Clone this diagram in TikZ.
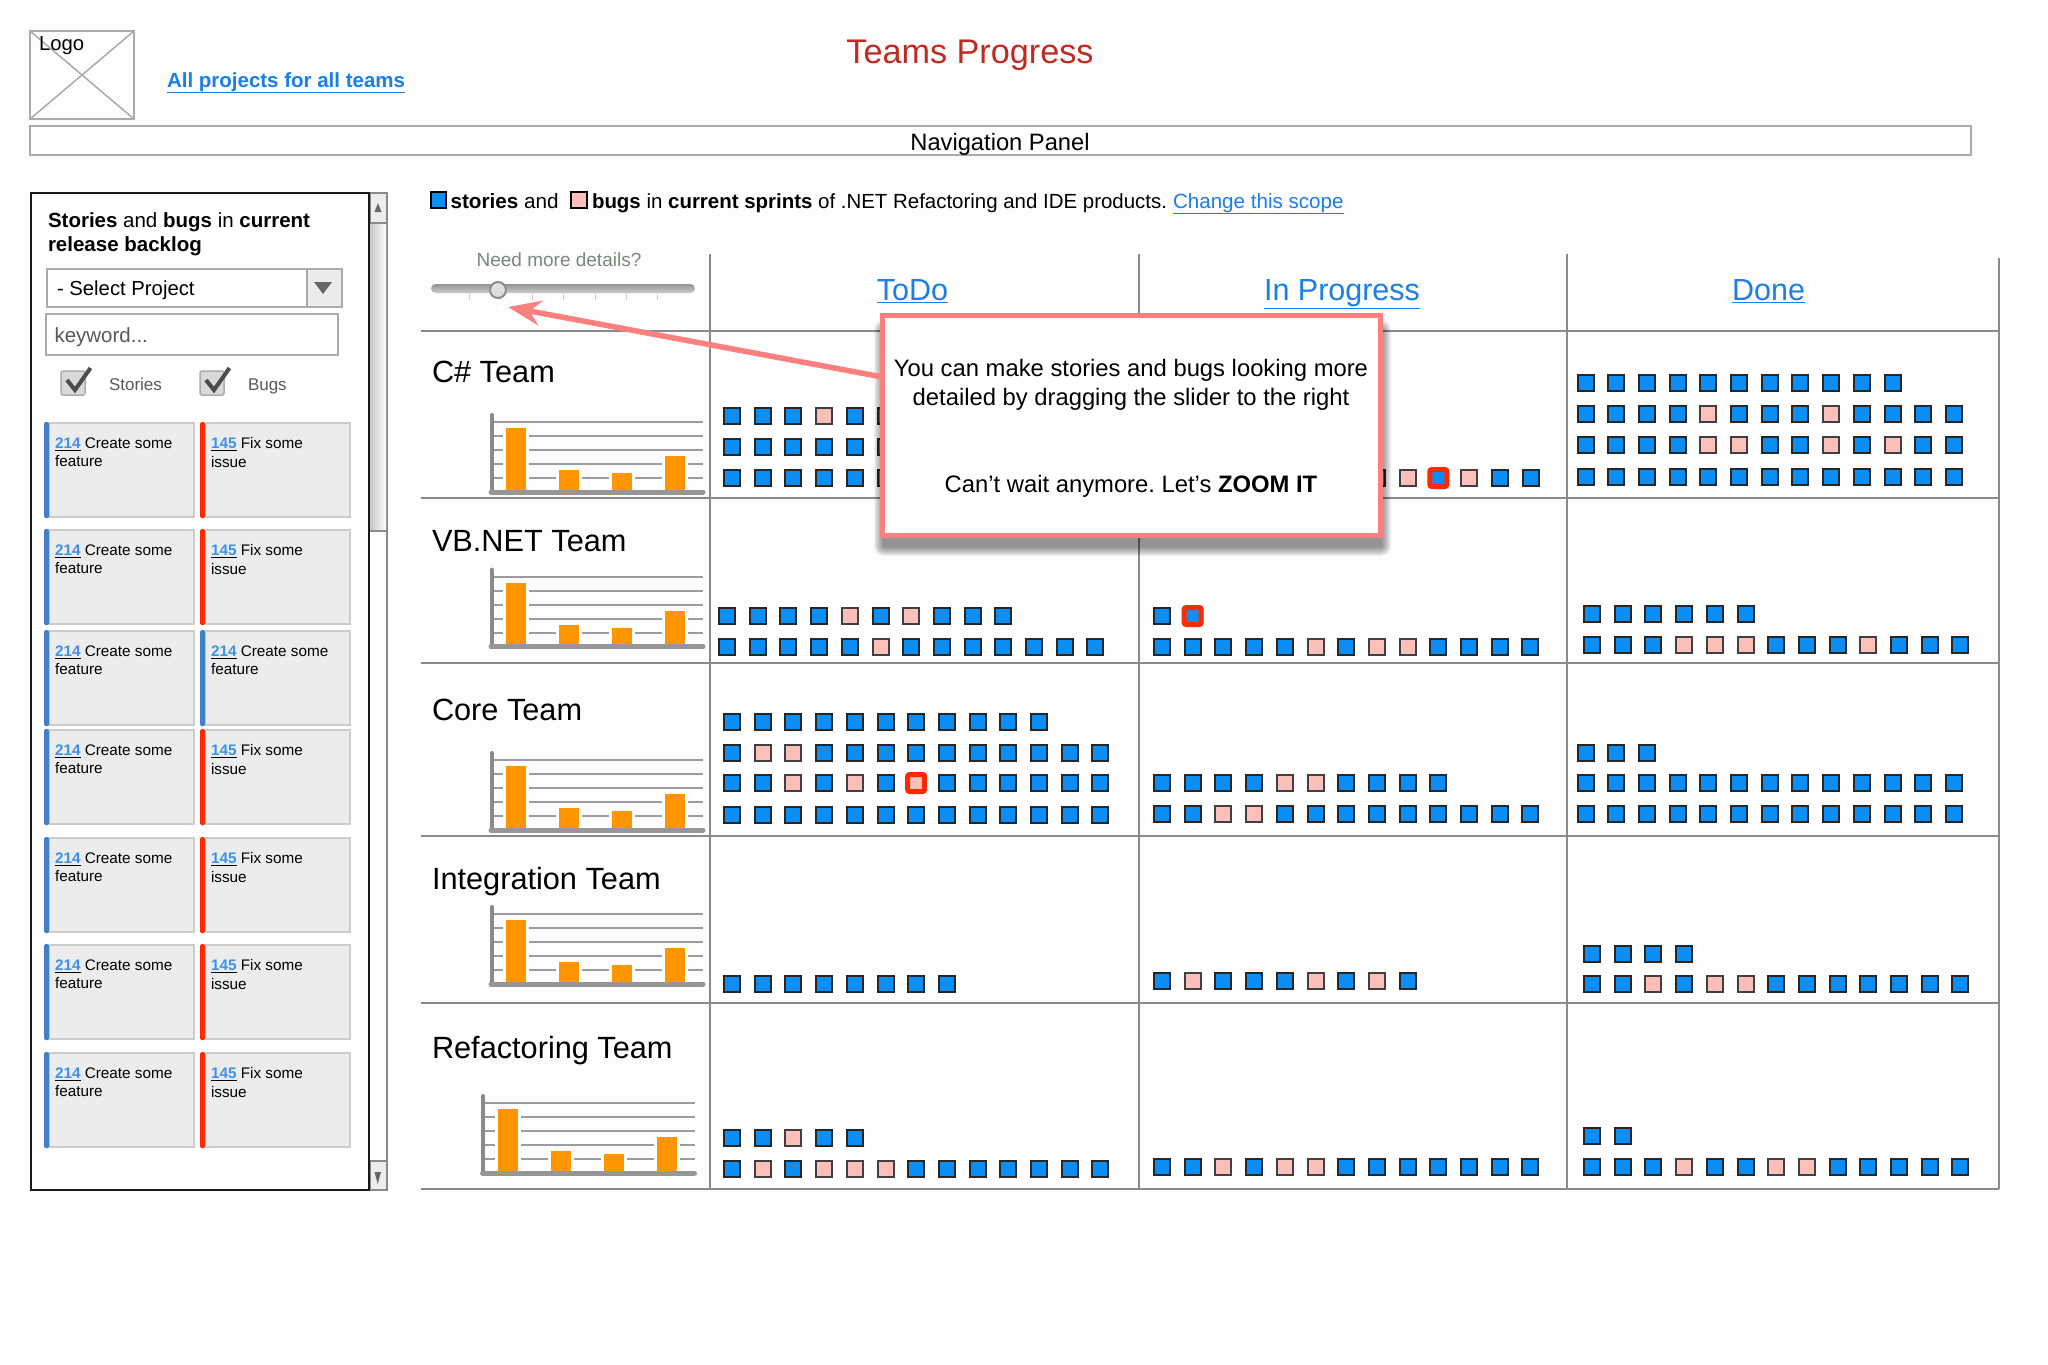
\documentclass[tikz,border=0pt]{standalone}
\usepackage{fontspec}
\setmainfont{Liberation Sans}
\usetikzlibrary{arrows.meta}

\definecolor{pageBg}{HTML}{FDFDFE}
\definecolor{wireGray}{HTML}{ABABAB}
\definecolor{gridGray}{HTML}{8A8A8E}
\definecolor{linkBlue}{HTML}{1A7FE6}
\definecolor{titleRed}{HTML}{BF2B20}
\definecolor{noteRed}{HTML}{FC8080}
\definecolor{storyBlue}{HTML}{0B8FF7}
\definecolor{bugPink}{HTML}{FDBFB9}
\definecolor{alertRed}{HTML}{FF2A00}
\definecolor{barOrange}{HTML}{FF9600}
\definecolor{cardGray}{HTML}{ECECEC}
\definecolor{cardBlue}{HTML}{3F80C8}
\definecolor{hintGray}{HTML}{7D857D}

\newcommand{\px}[1]{\fontsize{#1}{#1}\selectfont}

\tikzset{
    every node/.style={inner sep=0, outer sep=0},
    taskb/.style={draw=black!85, fill=storyBlue, line width=2, minimum size=16},
    taskp/.style={draw=black!75, fill=bugPink, line width=2, minimum size=16},
    taskB/.style={draw=alertRed, fill=storyBlue, line width=5, minimum size=17, rounded corners=2},
    taskP/.style={draw=alertRed, fill=bugPink, line width=5, minimum size=17, rounded corners=2},
    wirebox/.style={draw=wireGray, line width=2},
    tablerule/.style={draw=gridGray, line width=2},
    teamname/.style={anchor=base west, font=\px{30.7}},
    columnhead/.style={anchor=base, font=\px{30.5}, text=linkBlue},
    cardtext/.style={anchor=north west, align=left, font={\fontsize{15.3}{18.6}\selectfont}},
    notetext/.style={font=\px{23.8}},
}

\newcommand{\taskrow}[4]{
    \foreach \k [count=\i from 0] in {#4} {
        \node[task\k] (#1-\i) at ({#2+\i*30.7}, #3) {};
    }
}

\newcommand{\backlogcard}[7]{
    \draw[draw=black!20, fill=cardGray, line width=1.5] (#2, #3) rectangle (#2+145, #3+94);
    \fill[#4, rounded corners=1.5] (#2-5, #3-1) rectangle (#2, #3+95);
    \node[cardtext] (#1) at (#2+6, #3+14.7) {\underline{\textcolor{linkBlue!85!white}{\textbf{#5}}} #6\\#7};
}

\newcommand{\teamchart}[3]{
    \begin{scope}[shift={(#1, #2)}]
        \foreach \h in {422, 436, 450, 464, 478} {
            \draw[gridGray!85, line width=2] (491, \h) -- (703, \h);
        }
        \foreach \x/\t in {506/428, 559/470, 612/473, 665/456} {
            \fill[white] (\x-3, \t+2) rectangle (\x+23, 490);
            \fill[barOrange] (\x, \t) rectangle (\x+20, 490);
        }
        \draw[gridGray, line width=4, line cap=round] (491.5, 415) -- (491.5, 492);
        \draw[gridGray!90, line width=5, line cap=round] (491, 492) -- (703, 492);
    \end{scope}
}

\begin{document}
\frenchspacing
\begin{tikzpicture}[x=1pt, y=-1pt]
    \useasboundingbox (0, 0) rectangle (2048, 1365);
    \fill[pageBg] (0, 0) rectangle (2048, 1365);

    % header
    \node[wirebox, minimum width=104, minimum height=88] (logoBox) at (82, 75) {};
    \draw[wireGray, line width=1.5] (logoBox.north west) -- (logoBox.south east);
    \draw[wireGray, line width=1.5] (logoBox.north east) -- (logoBox.south west);
    \node[anchor=base west, font=\px{20.3}] (logoText) at (39, 50) {Logo};
    \node[anchor=base west, font=\bfseries\px{20.5}, text=linkBlue] (allProjects) at (167, 87) {\underline{All projects for all teams}};
    \node[font=\px{34.2}, text=titleRed] (pageTitle) at (970, 55) {Teams Progress};
    \node[wirebox, minimum width=1941, minimum height=29] (navPanel) at (1000.5, 140.5) {};
    \node[font=\px{23.7}] (navText) at (1000, 144) {Navigation Panel};

    % backlog panel
    \draw[gridGray, fill=white, line width=2] (369, 193) rectangle (387, 1190);
    \shade[left color=black!22, right color=white] (370, 224) rectangle (386, 530);
    \draw[gridGray, line width=2] (370, 531) -- (387, 531);
    \draw[gridGray, fill=black!7, line width=2.5] (370, 193) rectangle (387, 223);
    \draw[gridGray, fill=black!7, line width=2.5] (370, 1161) rectangle (387, 1190);
    \fill[black!60] (374.5, 212) -- (381.5, 212) -- (378, 203) -- cycle;
    \fill[black!60] (374.5, 1172) -- (381, 1172) -- (377.7, 1184) -- cycle;
    \draw[black!90, fill=white, line width=2] (30.5, 193) rectangle (369, 1190);

    \node[anchor=base west, font=\px{20.5}] (panelTitleA) at (48, 227) {\textbf{Stories} and \textbf{bugs} in \textbf{current}};
    \node[anchor=base west, font=\bfseries\px{20.5}] (panelTitleB) at (48, 251) {release backlog};
    \node[wirebox, fill=white, minimum width=295, minimum height=38, anchor=north west] (selectBox) at (47, 269) {};
    \draw[wireGray, fill=cardGray, line width=2] (307, 269) rectangle (342, 307);
    \fill[black!60] (314, 282) -- (332, 282) -- (323, 294) -- cycle;
    \node[anchor=base west, font=\px{20.3}] (selectText) at (57, 295) {- Select Project};
    \node[wirebox, fill=white, minimum width=292, minimum height=41, anchor=north west] (keywordBox) at (46, 314) {};
    \node[anchor=base west, font=\px{20.5}, text=black!65] (keywordText) at (54.5, 342) {keyword...};
    \foreach \x/\name/\label/\lx in {61/Stories/Stories/109, 200/Bugs/Bugs/248} {
        \draw[gridGray!70, fill=black!15, line width=1.5, rounded corners=2] (\x, 371) rectangle (\x+24, 395);
        \draw[black!70, line width=4] (\x+6, 380) -- (\x+14, 390) -- (\x+29.5, 368);
        \node[anchor=base west, font=\px{17}, text=black!65] (check\name) at (\lx, 390) {\label};
    }
    \foreach \r/\y in {1/423, 2/530, 4/730, 5/838, 6/945, 7/1053} {
        \backlogcard{cardA\r}{49}{\y}{cardBlue}{214}{Create some}{feature}
        \backlogcard{cardB\r}{205}{\y}{alertRed}{145}{Fix some}{issue}
    }
    \backlogcard{cardA3}{49}{631}{cardBlue}{214}{Create some}{feature}
    \backlogcard{cardB3}{205}{631}{cardBlue}{214}{Create some}{feature}

    % scope line
    \node[draw=black, fill=storyBlue, line width=2, minimum width=15.5, minimum height=15.5] (legendStory) at (438.5, 200) {};
    \node[draw=black, fill=bugPink, line width=2, minimum width=15.5, minimum height=15.5] (legendBug) at (579, 200) {};
    \node[anchor=base west, font=\px{20.7}] (scopeA) at (450.5, 208) {\textbf{stories} and};
    \node[anchor=base west, font=\px{20.45}] (scopeB) at (592, 208) {\textbf{bugs} in \textbf{current sprints} of .NET Refactoring and IDE products.};
    \node[anchor=base west, font=\px{20.6}, text=linkBlue] (scopeLink) at (1173, 208) {\underline{Change this scope}};

    % slider
    \node[font=\px{19}, text=hintGray] (detailsText) at (559, 260) {Need more details?};
    \foreach \x in {469, 500, 532, 563, 595, 626, 657} {
        \draw[black!20, line width=1] (\x, 294) -- (\x, 300);
    }
    \shade[top color=black!42, bottom color=black!20, rounded corners=4.5] (431, 284) rectangle (695, 293);
    \node[circle, draw=black!45, fill=black!13, line width=2, minimum size=16] (sliderKnob) at (498, 290) {};

    % table
    \foreach \y in {331, 498, 663, 836, 1003, 1189} {
        \draw[tablerule] (421, \y) -- (1999, \y);
    }
    \foreach \x/\t in {709.5/254, 1139/254, 1567/254, 1999/258} {
        \draw[tablerule] (\x, \t) -- (\x, 1189);
    }
    \node[columnhead] (headTodo) at (912.5, 300) {\underline{ToDo}};
    \node[columnhead] (headProgress) at (1342, 300) {\underline{In Progress}};
    \node[columnhead] (headDone) at (1768.5, 300) {\underline{Done}};

    \node[teamname] (teamCs) at (432, 382) {C\# Team};
    \node[teamname] (teamVb) at (432, 551) {VB.NET Team};
    \node[teamname] (teamCore) at (432, 720) {Core Team};
    \node[teamname] (teamInt) at (432, 889) {Integration Team};
    \node[teamname] (teamRef) at (432, 1058) {Refactoring Team};
    \teamchart{0}{0}{cs}
    \teamchart{0}{154.7}{vb}
    \teamchart{0}{338}{core}
    \teamchart{0}{492}{int}
    \teamchart{-8.5}{681}{ref}

    % C# row
    \taskrow{csTodoA}{732}{416}{b,b,b,p,b,b}
    \taskrow{csTodoB}{732}{447}{b,b,b,b,b,b}
    \taskrow{csTodoC}{732}{478}{b,b,b,b,b,b}
    \taskrow{csProg}{1377}{478}{b,p,B,p,b,b}
    \taskrow{csDoneA}{1585.5}{383}{b,b,b,b,b,b,b,b,b,b,b}
    \taskrow{csDoneB}{1585.5}{414}{b,b,b,b,p,b,b,b,p,b,b,b,b}
    \taskrow{csDoneC}{1585.5}{445}{b,b,b,b,p,p,b,b,p,b,p,b,b}
    \taskrow{csDoneD}{1585.5}{477}{b,b,b,b,b,b,b,b,b,b,b,b,b}

    % VB.NET row
    \taskrow{vbTodoA}{727}{616}{b,b,b,b,p,b,p,b,b,b}
    \taskrow{vbTodoB}{727}{647}{b,b,b,b,b,p,b,b,b,b,b,b,b}
    \taskrow{vbProgA}{1162}{616}{b,B}
    \taskrow{vbProgB}{1162}{647}{b,b,b,b,b,p,b,p,p,b,b,b,b}
    \taskrow{vbDoneA}{1592}{614}{b,b,b,b,b,b}
    \taskrow{vbDoneB}{1592}{645}{b,b,b,p,p,p,b,b,b,p,b,b,b}

    % Core row
    \taskrow{coreTodoA}{732}{722}{b,b,b,b,b,b,b,b,b,b,b}
    \taskrow{coreTodoB}{732}{752.5}{b,p,p,b,b,b,b,b,b,b,b,b,b}
    \taskrow{coreTodoC}{732}{783}{b,b,p,b,p,b,P,b,b,b,b,b,b}
    \taskrow{coreTodoD}{732}{815}{b,b,b,b,b,b,b,b,b,b,b,b,b}
    \taskrow{coreProgA}{1162}{783}{b,b,b,b,p,p,b,b,b,b}
    \taskrow{coreProgB}{1162}{814}{b,b,p,p,b,b,b,b,b,b,b,b,b}
    \taskrow{coreDoneA}{1585.5}{752.5}{b,b,b}
    \taskrow{coreDoneB}{1585.5}{783}{b,b,b,b,b,b,b,b,b,b,b,b,b}
    \taskrow{coreDoneC}{1585.5}{814}{b,b,b,b,b,b,b,b,b,b,b,b,b}

    % Integration row
    \taskrow{intTodo}{732}{984}{b,b,b,b,b,b,b,b}
    \taskrow{intProg}{1162}{981}{b,p,b,b,b,p,b,p,b}
    \taskrow{intDoneA}{1592}{953.5}{b,b,b,b}
    \taskrow{intDoneB}{1592}{984}{b,b,p,b,p,p,b,b,b,b,b,b,b}

    % Refactoring row
    \taskrow{refTodoA}{732}{1138}{b,b,p,b,b}
    \taskrow{refTodoB}{732}{1168.5}{b,p,b,p,p,p,b,b,b,b,b,b,b}
    \taskrow{refProg}{1162}{1167}{b,b,p,b,p,p,b,b,b,b,b,b,b}
    \taskrow{refDoneA}{1592}{1136}{b,b}
    \taskrow{refDoneB}{1592}{1167}{b,b,b,p,b,b,p,p,b,b,b,b,b}

    % note over the table
    \foreach \g in {1, ..., 10} {
        \fill[black, opacity=0.05, rounded corners=\g] (884-\g, 330-\g) rectangle (1381+\g, 546+\g);
    }
    \node[draw=noteRed, fill=white, line width=5, minimum width=498, minimum height=220] (noteBox) at (1131.5, 425.5) {};
    \coordinate (sliderTip) at (508, 307);
    \draw[-{Stealth[length=33, width=25, inset=11]}, noteRed, line width=5.5] ([yshift=48.5]noteBox.west) -- (sliderTip);
    \node[notetext] (noteA) at (1131, 370) {You can make stories and bugs looking more};
    \node[notetext] (noteB) at (1131, 399) {detailed by dragging the slider to the right};
    \node[notetext] (noteC) at (1131, 486) {Can\symbol{39}t wait anymore. Let\symbol{39}s \textbf{ZOOM IT}};
\end{tikzpicture}
\end{document}
